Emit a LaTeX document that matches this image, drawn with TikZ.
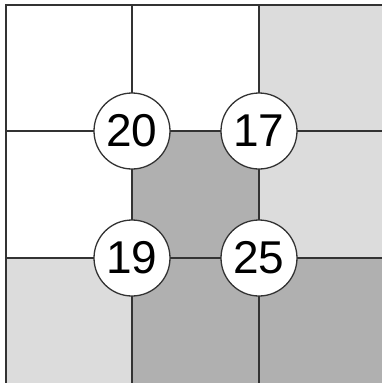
\documentclass[tikz,border=0pt]{standalone}
\usepackage{fontspec}
\setmainfont{Liberation Sans}
\definecolor{lightc}{HTML}{DCDCDC}
\definecolor{darkc}{HTML}{B0B0B0}
\definecolor{linec}{HTML}{333333}
\begin{document}
\begin{tikzpicture}[x=1bp,y=-1bp,
  gridline/.style={draw=linec,line width=1.6bp},
  num/.style={circle,draw=linec,line width=1.3bp,fill=white,minimum size=76bp,inner sep=0pt,font=\fontsize{46bp}{46bp}\selectfont}]
\useasboundingbox (0,0) rectangle (382,383);
\fill[white] (0,0) rectangle (382,383);
% cell fills
\fill[lightc] (259,5) rectangle (382,258);
\fill[darkc] (132,131) rectangle (259,383);
\fill[lightc] (6,258) rectangle (132,383);
\fill[darkc] (259,258) rectangle (382,383);
% grid
\draw[gridline] (6,383) -- (6,5) -- (382,5);
\draw[gridline] (6,131) -- (382,131);
\draw[gridline] (6,258) -- (382,258);
\draw[gridline] (132,5) -- (132,383);
\draw[gridline] (259,5) -- (259,383);
% circles
\node[num] (a) at (132,131) {20};
\node[num] (b) at (259,131) {17};
\node[num] (c) at (132,258) {19};
\node[num] (d) at (259,258) {25};
\end{tikzpicture}
\end{document}
